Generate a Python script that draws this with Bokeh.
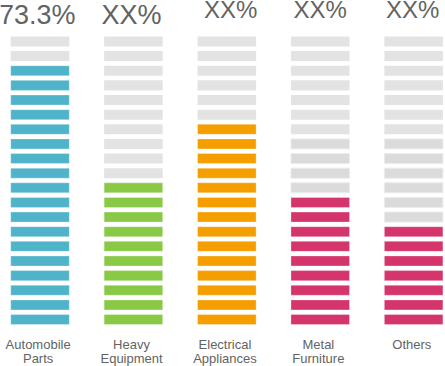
from bokeh.plotting import figure
from bokeh.models import Range1d, ColumnDataSource
from bokeh.core.properties import value
from bokeh.embed import file_html
from bokeh.resources import INLINE

# ---- data ----
categories = ["Automobile\nParts", "Heavy\nEquipment", "Electrical\nAppliances", "Metal\nFurniture", "Others"]
pct_labels = ["73.3%", "XX%", "XX%", "XX%", "XX%"]
filled_segments = [18, 10, 14, 9, 7]
total_segments = 20
bar_colors = ["#4fb4c9", "#89c946", "#f59e00", "#d4356c", "#d4356c"]
# grey segments that appear slightly darker (highlighted) in the reference
dark_grey_rows = {3: [9, 10, 11, 12], 4: [7, 8, 9, 10, 11, 12]}

GREY = "#e3e3e3"
DARK_GREY = "#dbdbdb"

xs, ys, fills, lines, lalphas = [], [], [], [], []
for c in range(len(categories)):
    for i in range(total_segments):
        xs.append(c)
        ys.append(i)
        if i < filled_segments[c]:
            fills.append(bar_colors[c]); lines.append("white"); lalphas.append(0.3)
        elif i in dark_grey_rows.get(c, []):
            fills.append(DARK_GREY); lines.append("#ececec"); lalphas.append(1.0)
        else:
            fills.append(GREY); lines.append(GREY); lalphas.append(0.0)

seg_src = ColumnDataSource(dict(x=xs, y=ys, fill=fills, line=lines, la=lalphas))

p = figure(width=445, height=366,
           x_range=Range1d(-0.423, 4.341), y_range=Range1d(-3.21, 21.80),
           x_axis_type=None, y_axis_type=None,
           output_backend="svg", toolbar_location=None, min_border=0)
p.grid.visible = False
p.outline_line_color = None
p.background_fill_color = "white"
p.border_fill_color = "white"

p.rect(x="x", y="y", width=0.627, height=0.684, source=seg_src,
       fill_color="fill", line_color="line", line_alpha="la", line_width=1)

# percentage labels
pct_src = ColumnDataSource(dict(
    x=[-0.03, -0.02, 0.04, 0.0, -0.01],
    y=[20.78, 20.78, 21.18, 21.18, 21.18],
    t=pct_labels,
    fs=["27px", "27px", "24px", "24px", "24px"],
))
pct_src.data["x"] = [c + dx for c, dx in enumerate(pct_src.data["x"])]
p.text(x="x", y="y", text="t", source=pct_src, text_font=value("Liberation Sans"),
       text_font_size="fs", text_color="#636363", text_align="center",
       text_baseline="alphabetic")

# category labels
cat_src = ColumnDataSource(dict(
    x=[c - 0.02 for c in range(len(categories))],
    y=[-1.2] * len(categories),
    t=categories,
))
p.text(x="x", y="y", text="t", source=cat_src, text_font=value("Liberation Sans"),
       text_font_size="13px", text_color="#636363", text_align="center",
       text_baseline="top", text_line_height=0.95)

open("out.html", "w").write(file_html(p, INLINE))
